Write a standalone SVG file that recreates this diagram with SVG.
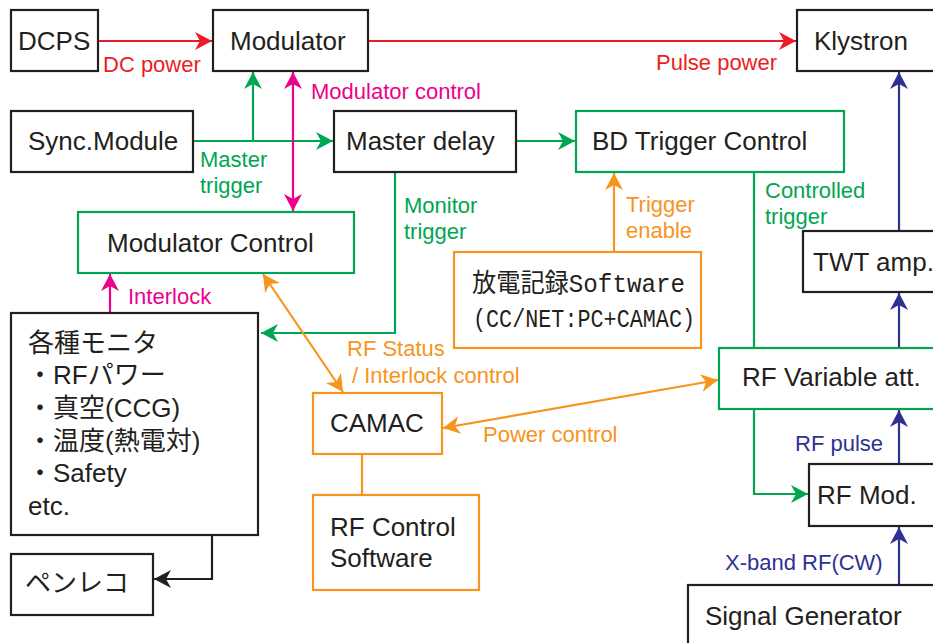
<svg xmlns="http://www.w3.org/2000/svg" width="933" height="643" viewBox="0 0 933 643">
<defs>
<style>
.box{fill:#fff;stroke:#231f20;stroke-width:2.2}
.g{stroke:#00a651}
.o{stroke:#f7941d}
.t{font-family:"Liberation Sans","Noto Sans CJK JP",sans-serif;font-size:26px;fill:#231f20}
.l{font-family:"Liberation Sans","Noto Sans CJK JP",sans-serif;font-size:22px}
.mono{font-family:"Liberation Mono","Noto Sans CJK JP",monospace;font-size:26px;fill:#231f20}
.c{fill:none;stroke-width:2.2}
</style>
<marker id="aR" markerUnits="userSpaceOnUse" markerWidth="18" markerHeight="18" refX="17" refY="9" orient="auto-start-reverse"><path d="M0,0 L17,9 L0,18 L5,9 z" fill="#ed1c24"/></marker>
<marker id="aG" markerUnits="userSpaceOnUse" markerWidth="18" markerHeight="18" refX="17" refY="9" orient="auto-start-reverse"><path d="M0,0 L17,9 L0,18 L5,9 z" fill="#00a651"/></marker>
<marker id="aM" markerUnits="userSpaceOnUse" markerWidth="18" markerHeight="18" refX="17" refY="9" orient="auto-start-reverse"><path d="M0,0 L17,9 L0,18 L5,9 z" fill="#ec008c"/></marker>
<marker id="aO" markerUnits="userSpaceOnUse" markerWidth="18" markerHeight="18" refX="17" refY="9" orient="auto-start-reverse"><path d="M0,0 L17,9 L0,18 L5,9 z" fill="#f7941d"/></marker>
<marker id="aB" markerUnits="userSpaceOnUse" markerWidth="18" markerHeight="18" refX="17" refY="9" orient="auto-start-reverse"><path d="M0,0 L17,9 L0,18 L5,9 z" fill="#2e3192"/></marker>
<marker id="aK" markerUnits="userSpaceOnUse" markerWidth="18" markerHeight="18" refX="17" refY="9" orient="auto-start-reverse"><path d="M0,0 L17,9 L0,18 L5,9 z" fill="#231f20"/></marker>
</defs>
<rect width="933" height="643" fill="#fff"/>
<g id="connectors">
<path class="c" stroke="#ed1c24" d="M98,41 H212" marker-end="url(#aR)"/>
<path class="c" stroke="#ed1c24" d="M368,41 H796" marker-end="url(#aR)"/>
<path class="c" stroke="#00a651" d="M193,141 H333" marker-end="url(#aG)"/>
<path class="c" stroke="#00a651" d="M253,141 V72" marker-end="url(#aG)"/>
<path class="c" stroke="#00a651" d="M516,141 H575" marker-end="url(#aG)"/>
<path class="c" stroke="#00a651" d="M395,172 V333 H261" marker-end="url(#aG)"/>
<path class="c" stroke="#00a651" d="M754,172 V494 H808" marker-end="url(#aG)"/>
<path class="c" stroke="#ec008c" d="M293,72 V211" marker-start="url(#aM)" marker-end="url(#aM)"/>
<path class="c" stroke="#ec008c" d="M110,313 V274" marker-end="url(#aM)"/>
<path class="c" stroke="#f7941d" d="M614,252 V173" marker-end="url(#aO)"/>
<path class="c" stroke="#f7941d" d="M263,274 L343,392" marker-start="url(#aO)" marker-end="url(#aO)"/>
<path class="c" stroke="#f7941d" d="M443,428 L718,380" marker-start="url(#aO)" marker-end="url(#aO)"/>
<path class="c" stroke="#f7941d" d="M362,454 V495"/>
<path class="c" stroke="#231f20" d="M212,535 V579 H154" marker-end="url(#aK)"/>
<path class="c" stroke="#2e3192" d="M899,231 V72" marker-end="url(#aB)"/>
<path class="c" stroke="#2e3192" d="M899,348 V293" marker-end="url(#aB)"/>
<path class="c" stroke="#2e3192" d="M899,464 V410" marker-end="url(#aB)"/>
<path class="c" stroke="#2e3192" d="M899,585 V527" marker-end="url(#aB)"/>
</g>
<g id="labels" class="l">
<text x="103" y="72" fill="#ed1c24">DC power</text>
<text x="656" y="70" fill="#ed1c24">Pulse power</text>
<text x="311" y="99" fill="#ec008c">Modulator control</text>
<text x="200" y="167" fill="#00a651">Master</text>
<text x="200" y="193" fill="#00a651">trigger</text>
<text x="404" y="213" fill="#00a651">Monitor</text>
<text x="404" y="239" fill="#00a651">trigger</text>
<text x="765" y="198" fill="#00a651">Controlled</text>
<text x="765" y="224" fill="#00a651">trigger</text>
<text x="626" y="212" fill="#f7941d">Trigger</text>
<text x="626" y="238" fill="#f7941d">enable</text>
<text x="128" y="304" fill="#ec008c">Interlock</text>
<text x="347" y="356" fill="#f7941d">RF Status</text>
<text x="352" y="383" fill="#f7941d">/ Interlock control</text>
<text x="483" y="442" fill="#f7941d">Power control</text>
<text x="795" y="451" fill="#2e3192">RF pulse</text>
<text x="725" y="570" fill="#2e3192">X-band RF(CW)</text>
</g>
<g id="dcps"><rect class="box" x="11" y="10" width="87" height="61"/><text class="t" x="18" y="50">DCPS</text></g>
<g id="modulator"><rect class="box" x="213" y="10" width="155" height="61"/><text class="t" x="230" y="50">Modulator</text></g>
<g id="klystron"><rect class="box" x="797" y="10" width="150" height="61"/><text class="t" x="814" y="50">Klystron</text></g>
<g id="sync"><rect class="box" x="11" y="111" width="182" height="61"/><text class="t" x="28" y="150">Sync.Module</text></g>
<g id="masterdelay"><rect class="box" x="334" y="111" width="182" height="61"/><text class="t" x="346" y="150">Master delay</text></g>
<g id="bdtrigger"><rect class="box g" x="576" y="111" width="268" height="61"/><text class="t" x="592" y="150">BD Trigger Control</text></g>
<g id="modcontrol"><rect class="box g" x="78" y="212" width="276" height="61"/><text class="t" x="107" y="252">Modulator Control</text></g>
<g id="monitors"><rect class="box" x="11" y="313" width="247" height="222"/>
<text class="t" x="28" y="352">各種モニタ</text>
<text class="t" x="27" y="384">・RFパワー</text>
<text class="t" x="27" y="417">・真空(CCG)</text>
<text class="t" x="27" y="450">・温度(熱電対)</text>
<text class="t" x="27" y="482">・Safety</text>
<text class="t" x="28" y="515">etc.</text></g>
<g id="penreco"><rect class="box" x="11" y="554" width="142" height="61"/><text class="t" x="25" y="592">ペンレコ</text></g>
<g id="camac"><rect class="box o" x="313" y="393" width="129" height="61"/><text class="t" x="330" y="432">CAMAC</text></g>
<g id="rfsoftware"><rect class="box o" x="313" y="495" width="166" height="95"/><text class="t" x="330" y="536">RF Control</text><text class="t" x="330" y="567">Software</text></g>
<g id="discharge"><rect class="box o" x="454" y="252" width="247" height="96"/>
<text class="mono" x="472" y="292" textLength="213" lengthAdjust="spacingAndGlyphs">放電記録Software</text>
<text class="mono" x="473" y="327" textLength="222" lengthAdjust="spacingAndGlyphs">(CC/NET:PC+CAMAC)</text></g>
<g id="twt"><rect class="box" x="803" y="231" width="140" height="61"/><text class="t" x="813" y="271">TWT amp.</text></g>
<g id="rfatt"><rect class="box g" x="719" y="348" width="224" height="61"/><text class="t" x="742" y="386">RF Variable att.</text></g>
<g id="rfmod"><rect class="box" x="809" y="464" width="134" height="62"/><text class="t" x="817" y="504">RF Mod.</text></g>
<g id="siggen"><rect class="box" x="688" y="585" width="255" height="70"/><text class="t" x="705" y="625">Signal Generator</text></g>
</svg>
